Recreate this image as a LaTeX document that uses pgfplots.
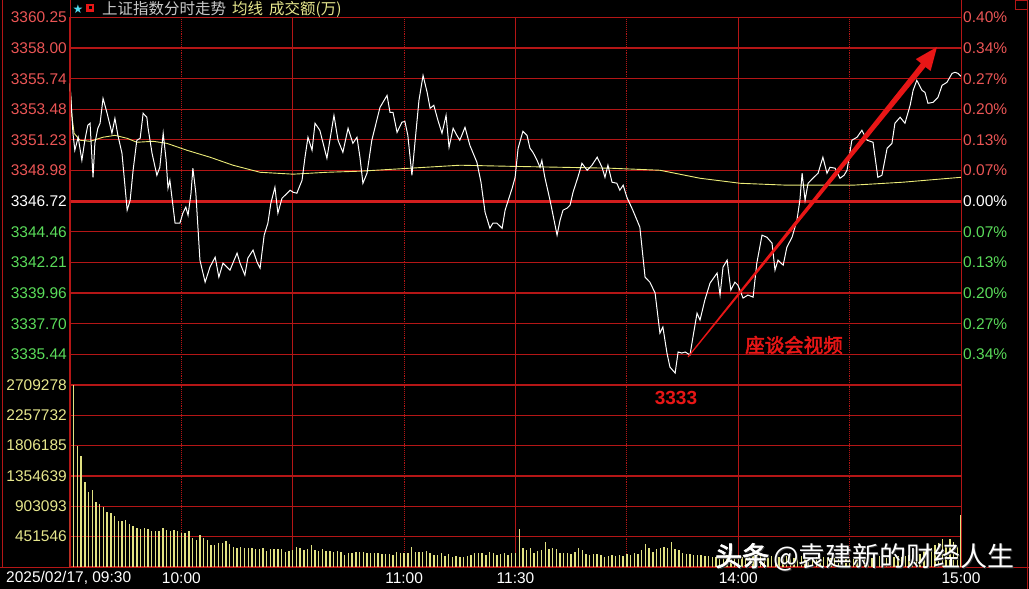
\documentclass[border=0pt]{standalone}
\usepackage{pgfplots}
\pgfplotsset{compat=1.18}
\usepackage{pgfplotstable}
\usepackage{fontspec}
\setmainfont{Liberation Sans}
\newfontfamily\cjk[AutoFakeBold=2.5]{Noto Sans CJK SC}
\newfontfamily\sym{DejaVu Sans}
\definecolor{gridred}{RGB}{180,22,22}
\definecolor{zerored}{RGB}{210,30,30}
\definecolor{lred}{RGB}{235,85,85}
\definecolor{lgreen}{RGB}{90,220,90}
\definecolor{lyellow}{RGB}{230,230,140}
\definecolor{volyellow}{RGB}{225,225,130}
\definecolor{avgyellow}{RGB}{235,235,120}
\definecolor{tgray}{RGB}{200,200,200}
\definecolor{starcyan}{RGB}{80,220,240}
\definecolor{annred}{RGB}{232,22,22}

\pgfplotstableread{
m p
0 3355.40
0.8 3351.72
1.3 3350.47
2.2 3351.43
3.2 3349.73
4.0 3351.21
4.8 3352.31
5.4 3352.46
6.2 3348.48
6.7 3350.98
7.5 3352.09
8.1 3352.46
8.9 3354.29
10.0 3353.19
11.3 3351.72
12.1 3352.82
12.9 3351.57
14.0 3350.25
15.4 3346.06
16.2 3346.79
17.0 3349.00
18.0 3351.21
18.9 3351.35
19.7 3353.19
20.7 3352.90
21.0 3352.16
22.1 3350.25
23.4 3348.63
24.2 3349.22
25.1 3351.72
25.9 3349.73
26.4 3347.68
26.9 3348.26
28.3 3345.10
29.6 3345.10
30.4 3345.84
31.2 3346.28
31.8 3345.69
32.6 3347.31
33.1 3349.15
33.9 3347.31
35.0 3342.38
36.4 3340.76
37.7 3341.87
39.1 3342.60
40.1 3341.13
41.2 3342.16
42.3 3341.87
43.1 3341.65
45.0 3342.90
45.8 3342.16
47.1 3341.28
47.9 3342.53
49.3 3343.12
50.4 3342.23
51.2 3341.79
52.3 3344.22
53.3 3345.10
54.1 3346.57
55.2 3347.75
56.0 3345.84
57.1 3346.94
58.5 3347.31
59.3 3347.53
60.1 3347.38
61.1 3347.31
62.5 3348.26
63.3 3349.96
64.1 3351.43
65.2 3350.47
66.0 3352.46
67.3 3351.94
69.2 3349.88
71.1 3353.04
72.2 3351.21
73.5 3350.32
74.9 3352.09
76.2 3350.98
77.3 3351.43
78.1 3349.96
78.9 3348.04
80.0 3348.78
81.3 3351.21
83.5 3353.63
85.4 3354.51
86.2 3353.26
87.0 3353.26
88.1 3351.79
89.4 3352.53
90.2 3352.60
91.0 3351.57
92.1 3348.63
92.9 3350.98
94.0 3354.15
95.1 3355.98
96.2 3354.73
97.0 3353.56
98.0 3353.78
99.1 3352.68
100.2 3351.72
101.3 3353.04
102.1 3350.69
103.2 3352.09
104.2 3351.57
105.0 3351.21
106.4 3352.16
107.7 3350.84
109.6 3349.59
110.7 3348.12
111.8 3345.91
113.1 3344.73
113.9 3345.10
115.0 3345.10
116.4 3344.73
117.2 3346.06
119.1 3347.68
119.9 3348.48
120.7 3350.62
122.0 3351.87
123.1 3351.57
123.9 3350.62
124.7 3350.32
125.8 3349.73
126.6 3349.22
127.1 3349.73
127.9 3348.48
129.3 3346.79
131.2 3344.22
132.0 3345.32
132.8 3346.06
133.9 3346.21
134.7 3346.43
135.5 3347.38
136.8 3348.48
137.9 3349.51
139.3 3349.00
140.6 3349.37
142.0 3349.96
143.3 3349.22
144.1 3348.48
144.9 3349.37
146.0 3348.12
147.3 3348.04
148.1 3347.53
149.0 3347.90
150.0 3347.01
151.6 3346.06
153.5 3344.81
154.9 3341.13
156.2 3340.76
157.6 3339.96
158.9 3337.01
159.7 3337.46
160.8 3335.54
161.6 3334.51
163.0 3334.07
163.8 3335.62
164.8 3335.54
165.7 3335.62
167.0 3335.40
167.8 3336.72
168.9 3338.48
169.7 3337.97
171.0 3339.44
172.4 3340.69
174.3 3341.43
175.1 3339.81
175.9 3341.87
177.0 3342.38
178.0 3340.18
179.1 3340.76
179.9 3340.54
181.3 3339.59
182.6 3339.81
184.0 3339.66
185.0 3342.16
186.4 3344.22
187.7 3344.07
189.1 3343.63
189.9 3341.65
190.7 3342.38
192.1 3342.01
193.1 3343.34
194.5 3344.07
195.8 3345.32
196.6 3346.79
197.2 3348.78
198.0 3346.79
198.8 3348.04
200.1 3348.41
201.5 3348.78
202.8 3349.96
203.9 3348.78
204.7 3349.22
206.1 3349.15
207.4 3348.41
208.5 3348.63
209.3 3349.00
210.6 3351.21
212.0 3351.43
213.3 3351.94
214.7 3351.21
216.3 3351.06
217.6 3348.48
218.7 3348.63
220.1 3350.62
221.4 3350.98
222.2 3352.46
223.6 3352.90
224.9 3352.46
226.3 3353.78
227.1 3354.88
228.1 3355.62
229.5 3354.88
230.3 3354.73
231.1 3353.93
232.5 3354.00
233.8 3354.37
234.9 3355.25
236.2 3355.47
237.6 3356.13
238.4 3356.21
239.2 3356.13
240.0 3355.91
}\pricetab

\pgfplotstableread{
m p
0 3355.40
0.5 3353.04
1.1 3351.72
2.7 3351.21
5.4 3351.13
8.9 3351.43
12.1 3351.57
15.4 3351.35
18.0 3351.06
22.4 3351.13
26.1 3350.98
31.5 3350.47
37.7 3349.96
43.9 3349.37
51.2 3348.85
60.1 3348.71
69.2 3348.85
78.1 3348.93
91.6 3349.15
105.1 3349.37
118.5 3349.29
132.0 3349.22
145.5 3349.15
158.9 3349.00
169.7 3348.41
180.5 3348.04
193.1 3347.90
210.9 3347.90
224.4 3348.12
240.0 3348.48
}\avgtab

\pgfplotstableread{
i v
0 985000
1 2709000
2 1797000
3 1645000
4 1262000
5 1118000
6 1143000
7 967000
8 937000
9 888000
10 823000
11 804000
12 755000
13 690000
14 690000
15 705000
16 642000
17 608000
18 578000
19 568000
20 582000
21 570000
22 540000
23 530000
24 535000
25 582000
26 545000
27 535000
28 555000
29 530000
30 502000
31 502000
32 531000
33 428000
34 398000
35 472000
36 428000
37 398000
38 325000
39 325000
40 354000
41 354000
42 384000
43 340000
44 295000
45 276000
46 300000
47 290000
48 276000
49 276000
50 261000
51 261000
52 276000
53 241000
54 261000
55 261000
56 261000
57 261000
58 226000
59 241000
60 251000
61 300000
62 290000
63 251000
64 261000
65 325000
66 251000
67 236000
68 261000
69 241000
70 241000
71 226000
72 241000
73 226000
74 177000
75 212000
76 212000
77 217000
78 226000
79 226000
80 202000
81 202000
82 202000
83 202000
84 192000
85 192000
86 187000
87 177000
88 217000
89 202000
90 202000
91 212000
92 300000
93 226000
94 226000
95 226000
96 241000
97 202000
98 177000
99 177000
100 202000
101 162000
102 192000
103 153000
104 162000
105 143000
106 153000
107 162000
108 177000
109 202000
110 212000
111 202000
112 177000
113 217000
114 202000
115 177000
116 187000
117 202000
118 177000
119 202000
120 212000
121 571000
122 276000
123 251000
124 290000
125 202000
126 241000
127 251000
128 369000
129 261000
130 276000
131 261000
132 212000
133 202000
134 212000
135 192000
136 226000
137 276000
138 251000
139 187000
140 177000
141 192000
142 192000
143 177000
144 153000
145 162000
146 177000
147 162000
148 177000
149 162000
150 192000
151 177000
152 202000
153 192000
154 251000
155 340000
156 276000
157 226000
158 261000
159 290000
160 300000
161 276000
162 369000
163 261000
164 251000
165 212000
166 192000
167 192000
168 177000
169 177000
170 177000
171 162000
172 162000
173 153000
174 143000
175 170000
176 160000
177 175000
178 150000
179 165000
180 180000
181 155000
182 160000
183 150000
184 170000
185 190000
186 175000
187 160000
188 150000
189 165000
190 155000
191 145000
192 160000
193 170000
194 150000
195 140000
196 155000
197 165000
198 150000
199 140000
200 135000
201 150000
202 160000
203 145000
204 135000
205 140000
206 130000
207 145000
208 155000
209 140000
210 130000
211 125000
212 140000
213 150000
214 135000
215 125000
216 130000
217 145000
218 160000
219 150000
220 140000
221 135000
222 150000
223 165000
224 155000
225 170000
226 185000
227 175000
228 200000
229 190000
230 240000
231 220000
232 280000
233 330000
234 360000
235 410000
236 330000
237 420000
238 370000
239 300000
240 767000
}\voltab

\begin{document}
\begin{tikzpicture}
\fill[black] (0pt,0pt) rectangle (1029pt,589pt);
\useasboundingbox (0pt,0pt) rectangle (1029pt,589pt);

\pgfplotsset{
  panel/.style={
    scale only axis, width=891pt, xmin=0, xmax=240,
    axis line style={draw=gridred, line width=1pt},
    major tick length=0pt, minor tick length=0pt,
    xtick={60,120,180}, minor xtick={30,90,150,210},
    xmajorgrids, xminorgrids, ymajorgrids,
    major grid style={draw=gridred, line width=1.1pt},
    minor grid style={draw=gridred, line width=0.9pt, densely dotted},
    scaled y ticks=false, scaled x ticks=false,
    yticklabel style={font=\fontsize{15.5}{16}\selectfont, anchor=east, inner sep=0pt, xshift=-3pt},
    xticklabel style={font=\fontsize{15.5}{16}\selectfont, text=white},
  }
}

% price panel
\begin{axis}[panel, at={(70pt,204pt)}, anchor=south west, height=367.7pt,
  ymin=3333.19, ymax=3360.26,
  ytick={3335.44,3337.70,3339.96,3342.21,3344.46,3346.72,3348.98,3351.23,3353.48,3355.74,3358.00,3360.25},
  yticklabels={\textcolor{lgreen}{3335.44},\textcolor{lgreen}{3337.70},\textcolor{lgreen}{3339.96},\textcolor{lgreen}{3342.21},\textcolor{lgreen}{3344.46},\textcolor{white}{3346.72},\textcolor{lred}{3348.98},\textcolor{lred}{3351.23},\textcolor{lred}{3353.48},\textcolor{lred}{3355.74},\textcolor{lred}{3358.00},\textcolor{lred}{3360.25}},
  xticklabels={,,},
]
\addplot[zerored, line width=2.6pt] coordinates {(0,3346.72) (240,3346.72)};
\addplot[avgyellow, line width=0.9pt] table[x=m,y=p] {\avgtab};
\addplot[white, line width=1pt] table[x=m,y=p] {\pricetab};
\end{axis}

% percent labels on the right
\begin{axis}[scale only axis, width=891pt, height=367.7pt, at={(70pt,204pt)}, anchor=south west,
  xmin=0, xmax=240, ymin=3333.19, ymax=3360.26,
  axis x line=none, axis y line*=right, axis line style={draw=gridred, line width=1pt},
  major tick length=0pt, scaled y ticks=false,
  ytick={3335.44,3337.70,3339.96,3342.21,3344.46,3346.72,3348.98,3351.23,3353.48,3355.74,3358.00,3360.25},
  yticklabels={\textcolor{lgreen}{0.34\%},\textcolor{lgreen}{0.27\%},\textcolor{lgreen}{0.20\%},\textcolor{lgreen}{0.13\%},\textcolor{lgreen}{0.07\%},\textcolor{white}{0.00\%},\textcolor{lred}{0.07\%},\textcolor{lred}{0.13\%},\textcolor{lred}{0.20\%},\textcolor{lred}{0.27\%},\textcolor{lred}{0.34\%},\textcolor{lred}{0.40\%}},
  yticklabel style={font=\fontsize{15.5}{16}\selectfont, anchor=west, inner sep=0pt, xshift=2pt},
]
\addplot[draw=none] coordinates {(0,3346.72)};
\end{axis}

% volume panel
\begin{axis}[panel, at={(70pt,22pt)}, anchor=south west, height=182pt,
  ymin=0, ymax=2709278,
  ytick={451546,903093,1354639,1806185,2257732,2709278},
  yticklabels={451546,903093,1354639,1806185,2257732,2709278},
  yticklabel style={text=lyellow},
  xticklabels={,,},
  extra x ticks={30,90,120,180,240},
  extra x tick labels={10:00,11:00,11:30,14:00,15:00},
  extra x tick style={grid=none, xticklabel style={anchor=center, yshift=-11pt, text=white}},
]
\addplot[ycomb, volyellow, line width=1.4pt] table[x=i,y=v] {\voltab};
\end{axis}

\begin{scope}[x=1pt,y=1pt]
% frame lines
\draw[gridred, line width=1pt] (2,21) -- (2,589);
\draw[gridred, line width=1pt] (1027,0) -- (1027,589);
\draw[gridred, line width=1pt] (0,21) -- (1029,21);
\draw[gridred, line width=1pt] (70,21) -- (70,589);
\draw[gridred, line width=1pt] (961,21) -- (961,589);
\draw[gridred, line width=0.8pt] (1015,580) rectangle (1027,589);

% date label
\node[anchor=west, text=white, font=\fontsize{15.5}{16}\selectfont, inner sep=0pt] at (6,11) {2025/02/17, 09:30};

% title row
\node[text=starcyan, font=\sym\fontsize{12}{12}\selectfont, inner sep=0pt] at (78,580) {★};
\fill[annred] (86,577) rectangle (94,585);
\fill[black] (88.5,579.5) rectangle (91.5,582.5);
\node[anchor=west, inner sep=0pt, font=\cjk\fontsize{15.5}{15.5}\selectfont] at (102,580)
  {\textcolor{tgray}{上证指数分时走势}\hspace{6pt}\textcolor{lyellow}{均线\hspace{6pt}成交额(万)}};

% annotations
\fill[annred] (687.6,232.4) -- (920.9,525.8) -- (915.8,529.9) -- (937,542) -- (930.6,518.0) -- (925.5,522.0) -- (688.4,231.6) -- cycle;
\node[text=annred, font=\bfseries\fontsize{19}{19}\selectfont, inner sep=0pt] at (676,191) {3333};
\node[text=annred, font=\cjk\bfseries\fontsize{19.5}{20}\selectfont, inner sep=0pt] at (794,244) {座谈会视频};

% watermark
\node[anchor=west, text=black!80, font=\cjk\fontsize{27}{27}\selectfont, inner sep=0pt] at (716,31) {\textbf{头条}\hspace{4pt}@袁建新的财经人生};
\node[anchor=west, text=white, font=\cjk\fontsize{27}{27}\selectfont, inner sep=0pt] at (715,32) {\textbf{头条}\hspace{4pt}@袁建新的财经人生};
\end{scope}
\end{tikzpicture}
\end{document}
